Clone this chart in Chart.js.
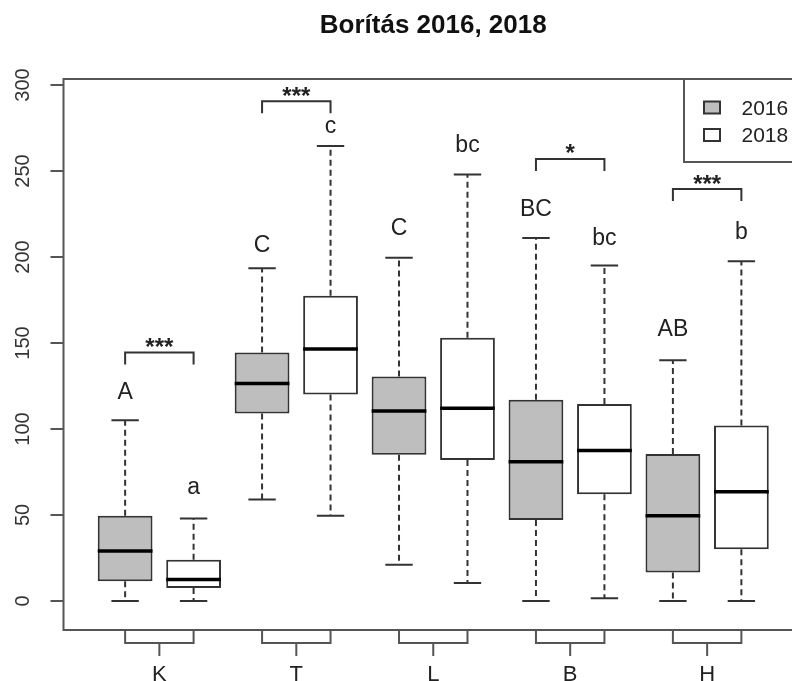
<!DOCTYPE html>
<html>
<head>
<meta charset="utf-8">
<script src="https://cdn.jsdelivr.net/npm/chart.js@4.4.0/dist/chart.umd.min.js"></script>
<style>
  html, body { margin: 0; padding: 0; background: #ffffff; overflow: hidden; }
  #wrap { width: 820px; height: 681px; position: relative; }
</style>
</head>
<body>
<div id="wrap"><canvas id="c"></canvas></div>
<script>
// Site groups and survey years
const groups = ['K', 'T', 'L', 'B', 'H'];
const years = ['2016', '2018'];
const yTicks = [0, 50, 100, 150, 200, 250, 300];

// Box statistics, 2016
const lower2016  = [0, 59, 21, 0, 0];
const q1_2016    = [11.5, 109, 85, 47, 16.5];
const median2016 = [29, 126.5, 110.5, 81, 49.5];
const q3_2016    = [49.5, 144.5, 130.5, 117, 85.5];
const upper2016  = [105, 193.5, 199.5, 211, 140];

// Box statistics, 2018
const lower2018  = [0, 49.5, 10.5, 1.5, 0];
const q1_2018    = [7.5, 120, 82, 62, 30];
const median2018 = [12.5, 146.5, 112, 87.5, 63.5];
const q3_2018    = [24, 177.5, 153, 114.5, 102];
const upper2018  = [48, 264.5, 248, 195, 197.5];

// Group letters (post-hoc tests) and where they sit on the value axis
const letters2016 = ['A', 'C', 'C', 'BC', 'AB'];
const letters2018 = ['a', 'c', 'bc', 'bc', 'b'];
const letterY2016 = [122.5, 208, 217.5, 229, 159];
const letterY2018 = [66, 276, 266, 212, 215.5];

// Year-to-year significance within each group
const sigMarks = ['***', '***', '', '*', '***'];
const sigY = [144.5, 290.5, null, 257, 239.5];

// Boxes: 2016 at odd positions, 2018 at even positions
const pos2016 = groups.map((_, i) => 2 * i + 1);
const pos2018 = groups.map((_, i) => 2 * i + 2);

const series = [
  { pos: pos2016, lower: lower2016, q1: q1_2016, med: median2016, q3: q3_2016, upper: upper2016, letters: letters2016, letterY: letterY2016 },
  { pos: pos2018, lower: lower2018, q1: q1_2018, med: median2018, q3: q3_2018, upper: upper2018, letters: letters2018, letterY: letterY2018 }
];

const FONT = 'Liberation Sans, Arial, sans-serif';
const LINE = '#333333';

function inkText(ctx, text, cx, cy) {
  const m = ctx.measureText(text);
  const base = cy + (m.actualBoundingBoxAscent - m.actualBoundingBoxDescent) / 2;
  ctx.fillText(text, cx, base);
}

// Dashed whiskers and staples, drawn under the boxes
const whiskerPlugin = {
  id: 'whiskers',
  beforeDatasetsDraw(chart) {
    const { ctx, scales: { x, y } } = chart;
    ctx.save();
    ctx.strokeStyle = LINE;
    ctx.lineWidth = 2;
    series.forEach(s => {
      s.pos.forEach((p, i) => {
        const cx = x.getPixelForValue(p);
        ctx.setLineDash([6, 4]);
        ctx.beginPath();
        ctx.moveTo(cx, y.getPixelForValue(s.q3[i]));
        ctx.lineTo(cx, y.getPixelForValue(s.upper[i]));
        ctx.moveTo(cx, y.getPixelForValue(s.q1[i]));
        ctx.lineTo(cx, y.getPixelForValue(s.lower[i]));
        ctx.stroke();
        ctx.setLineDash([]);
        const l = x.getPixelForValue(p - 0.2), r = x.getPixelForValue(p + 0.2);
        ctx.beginPath();
        [s.upper[i], s.lower[i]].forEach(v => {
          const py = y.getPixelForValue(v);
          ctx.moveTo(l, py); ctx.lineTo(r, py);
        });
        ctx.stroke();
      });
    });
    ctx.restore();
  }
};

// Medians, letters, significance brackets, frame, group brackets, legend
const overlayPlugin = {
  id: 'overlay',
  afterDatasetsDraw(chart) {
    const { ctx, chartArea: ca, scales: { x, y } } = chart;
    ctx.save();

    // medians across each box
    ctx.strokeStyle = '#000';
    ctx.lineWidth = 3.5;
    series.forEach((s, d) => {
      const meta = chart.getDatasetMeta(d);
      meta.data.forEach((el, i) => {
        const { x: bx, width } = el.getProps(['x', 'width'], true);
        const py = y.getPixelForValue(s.med[i]);
        ctx.beginPath();
        ctx.moveTo(bx - width / 2, py);
        ctx.lineTo(bx + width / 2, py);
        ctx.stroke();
      });
    });

    // letters above whiskers
    ctx.fillStyle = '#222';
    ctx.textAlign = 'center';
    ctx.textBaseline = 'alphabetic';
    ctx.font = '23px ' + FONT;
    series.forEach(s => {
      s.pos.forEach((p, i) => {
        inkText(ctx, s.letters[i], x.getPixelForValue(p), y.getPixelForValue(s.letterY[i]));
      });
    });

    // significance brackets
    ctx.strokeStyle = LINE;
    ctx.lineWidth = 2;
    ctx.font = 'bold 24px ' + FONT;
    groups.forEach((g, i) => {
      if (!sigMarks[i]) return;
      const x1 = x.getPixelForValue(pos2016[i]);
      const x2 = x.getPixelForValue(pos2018[i]);
      const py = y.getPixelForValue(sigY[i]);
      ctx.beginPath();
      ctx.moveTo(x1, py + 12); ctx.lineTo(x1, py); ctx.lineTo(x2, py); ctx.lineTo(x2, py + 12);
      ctx.stroke();
      inkText(ctx, sigMarks[i], (x1 + x2) / 2, py - 10);
    });

    // plot frame
    ctx.strokeStyle = '#555';
    ctx.lineWidth = 2;
    ctx.strokeRect(ca.left, ca.top, ca.right - ca.left, ca.bottom - ca.top);

    // group brackets under the axis
    groups.forEach((g, i) => {
      const x1 = x.getPixelForValue(pos2016[i]);
      const x2 = x.getPixelForValue(pos2018[i]);
      const xm = x.getPixelForValue((pos2016[i] + pos2018[i]) / 2);
      const b = ca.bottom;
      ctx.beginPath();
      ctx.moveTo(x1, b); ctx.lineTo(x1, b + 13); ctx.lineTo(x2, b + 13); ctx.lineTo(x2, b);
      ctx.moveTo(xm, b + 13); ctx.lineTo(xm, b + 26);
      ctx.stroke();
    });

    // legend in the top-right corner of the plot
    const lx = ca.right - 119, ly = ca.top, lb = ca.top + 83;
    ctx.fillStyle = '#fff';
    ctx.fillRect(lx, ly, ca.right - lx, lb - ly);
    ctx.strokeStyle = '#555';
    ctx.strokeRect(lx, ly, ca.right - lx, lb - ly);
    ctx.font = '21px ' + FONT;
    ctx.textAlign = 'left';
    chart.data.datasets.forEach((ds, k) => {
      const cy = ly + 28.5 + k * 27.5;
      ctx.fillStyle = ds.backgroundColor;
      ctx.fillRect(lx + 20, cy - 6, 16, 12);
      ctx.strokeStyle = LINE;
      ctx.strokeRect(lx + 20, cy - 6, 16, 12);
      ctx.fillStyle = '#222';
      inkText(ctx, ds.label, lx + 57.5, cy);
    });

    ctx.restore();
  }
};

const chart = new Chart(document.getElementById('c'), {
  type: 'bar',
  data: {
    datasets: [
      {
        label: years[0],
        data: groups.map((_, i) => ({ x: pos2016[i], y: [q1_2016[i], q3_2016[i]] })),
        backgroundColor: '#bebebe',
        borderColor: LINE,
        borderWidth: 2,
        borderSkipped: false,
        grouped: false,
        categoryPercentage: 1,
        barPercentage: 0.8
      },
      {
        label: years[1],
        data: groups.map((_, i) => ({ x: pos2018[i], y: [q1_2018[i], q3_2018[i]] })),
        backgroundColor: '#ffffff',
        borderColor: LINE,
        borderWidth: 2,
        borderSkipped: false,
        grouped: false,
        categoryPercentage: 1,
        barPercentage: 0.8
      }
    ]
  },
  options: {
    responsive: true,
    maintainAspectRatio: false,
    animation: false,
    events: [],
    layout: { padding: { left: 0, right: 17, top: 0, bottom: 0 } },
    plugins: {
      legend: { display: false },
      tooltip: { enabled: false },
      title: {
        display: true,
        text: 'Borítás 2016, 2018',
        fullSize: false,
        color: '#111',
        font: { family: FONT, size: 26, weight: 'bold' },
        padding: { top: 10, bottom: 37.8 }
      }
    },
    scales: {
      x: {
        type: 'linear',
        min: 0.1,
        max: 10.9,
        offset: false,
        afterBuildTicks: s => { s.ticks = groups.map((_, i) => ({ value: (pos2016[i] + pos2018[i]) / 2 })); },
        afterFit: s => { s.height = 51; },
        grid: { display: false, drawTicks: false, offset: false },
        border: { display: false },
        ticks: {
          callback: (v, i) => groups[i],
          padding: 32,
          autoSkip: false,
          maxRotation: 0,
          color: '#222',
          font: { family: FONT, size: 22 }
        }
      },
      y: {
        type: 'linear',
        min: -16.9,
        max: 303.5,
        afterBuildTicks: s => { s.ticks = yTicks.map(v => ({ value: v })); },
        afterFit: s => { s.width = 63.5; },
        grid: { drawOnChartArea: false, drawTicks: true, tickLength: 13, color: '#555', lineWidth: 2 },
        border: { display: false },
        ticks: {
          minRotation: 90,
          maxRotation: 90,
          crossAlign: 'center',
          padding: 10,
          color: '#333',
          font: { family: FONT, size: 20 },
          callback: v => String(v)
        }
      }
    }
  },
  plugins: [whiskerPlugin, overlayPlugin]
});
</script>
</body>
</html>
